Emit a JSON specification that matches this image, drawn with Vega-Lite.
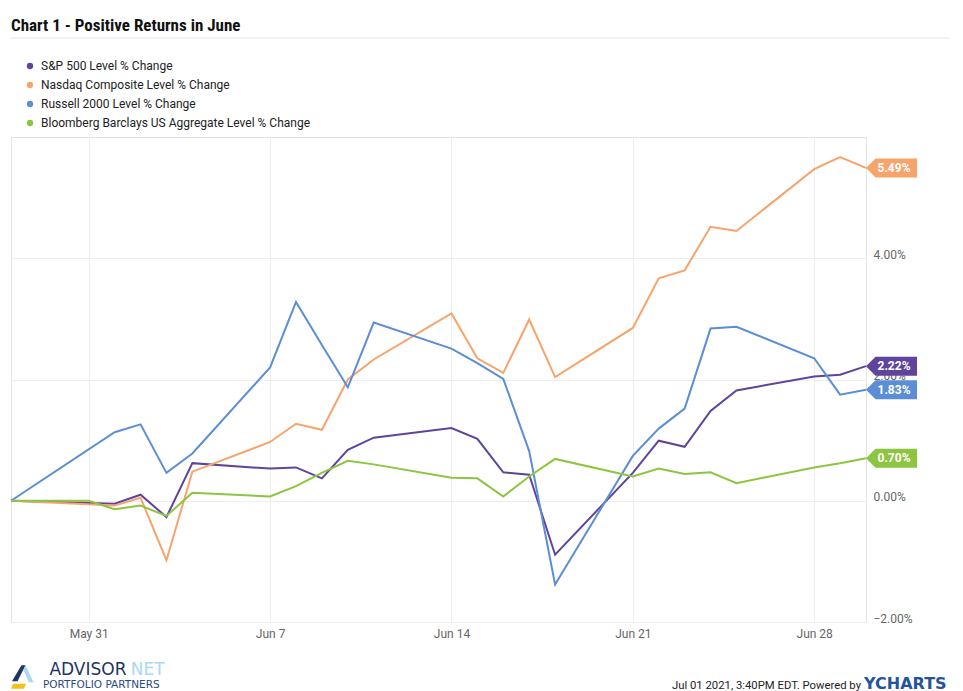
{
  "$schema": "https://vega.github.io/schema/vega-lite/v6.json",
  "width": 855,
  "height": 485,
  "autosize": {"type": "none"},
  "padding": {"left": 11, "top": 137, "right": 97, "bottom": 69},
  "background": "white",
  "title": {
    "text": "Chart 1 - Positive Returns in June",
    "anchor": "start",
    "frame": "group",
    "font": "'Roboto Condensed', 'DejaVu Sans Condensed', 'Liberation Sans Narrow', Roboto",
    "fontSize": 17,
    "fontWeight": "bold",
    "color": "#111111",
    "baseline": "alphabetic",
    "offset": -11
  },
  "config": {
    "view": {"stroke": "#e3e3e3"},
    "font": "Roboto"
  },
  "datasets": {
    "series": [
      {"date": "2021-05-28", "series": "S&P 500 Level % Change", "value": 0},
      {"date": "2021-06-01", "series": "S&P 500 Level % Change", "value": -0.05},
      {"date": "2021-06-02", "series": "S&P 500 Level % Change", "value": 0.10},
      {"date": "2021-06-03", "series": "S&P 500 Level % Change", "value": -0.27},
      {"date": "2021-06-04", "series": "S&P 500 Level % Change", "value": 0.62},
      {"date": "2021-06-07", "series": "S&P 500 Level % Change", "value": 0.53},
      {"date": "2021-06-08", "series": "S&P 500 Level % Change", "value": 0.55},
      {"date": "2021-06-09", "series": "S&P 500 Level % Change", "value": 0.37},
      {"date": "2021-06-10", "series": "S&P 500 Level % Change", "value": 0.84},
      {"date": "2021-06-11", "series": "S&P 500 Level % Change", "value": 1.04},
      {"date": "2021-06-14", "series": "S&P 500 Level % Change", "value": 1.20},
      {"date": "2021-06-15", "series": "S&P 500 Level % Change", "value": 1.02},
      {"date": "2021-06-16", "series": "S&P 500 Level % Change", "value": 0.47},
      {"date": "2021-06-17", "series": "S&P 500 Level % Change", "value": 0.43},
      {"date": "2021-06-18", "series": "S&P 500 Level % Change", "value": -0.89},
      {"date": "2021-06-21", "series": "S&P 500 Level % Change", "value": 0.46},
      {"date": "2021-06-22", "series": "S&P 500 Level % Change", "value": 0.99},
      {"date": "2021-06-23", "series": "S&P 500 Level % Change", "value": 0.89},
      {"date": "2021-06-24", "series": "S&P 500 Level % Change", "value": 1.48},
      {"date": "2021-06-25", "series": "S&P 500 Level % Change", "value": 1.82},
      {"date": "2021-06-28", "series": "S&P 500 Level % Change", "value": 2.05},
      {"date": "2021-06-29", "series": "S&P 500 Level % Change", "value": 2.08},
      {"date": "2021-06-30", "series": "S&P 500 Level % Change", "value": 2.22},
      {"date": "2021-05-28", "series": "Nasdaq Composite Level % Change", "value": 0},
      {"date": "2021-06-01", "series": "Nasdaq Composite Level % Change", "value": -0.08},
      {"date": "2021-06-02", "series": "Nasdaq Composite Level % Change", "value": 0.05},
      {"date": "2021-06-03", "series": "Nasdaq Composite Level % Change", "value": -0.98},
      {"date": "2021-06-04", "series": "Nasdaq Composite Level % Change", "value": 0.48},
      {"date": "2021-06-07", "series": "Nasdaq Composite Level % Change", "value": 0.97},
      {"date": "2021-06-08", "series": "Nasdaq Composite Level % Change", "value": 1.27},
      {"date": "2021-06-09", "series": "Nasdaq Composite Level % Change", "value": 1.17},
      {"date": "2021-06-10", "series": "Nasdaq Composite Level % Change", "value": 2.00},
      {"date": "2021-06-11", "series": "Nasdaq Composite Level % Change", "value": 2.33},
      {"date": "2021-06-14", "series": "Nasdaq Composite Level % Change", "value": 3.09},
      {"date": "2021-06-15", "series": "Nasdaq Composite Level % Change", "value": 2.35},
      {"date": "2021-06-16", "series": "Nasdaq Composite Level % Change", "value": 2.11},
      {"date": "2021-06-17", "series": "Nasdaq Composite Level % Change", "value": 2.99},
      {"date": "2021-06-18", "series": "Nasdaq Composite Level % Change", "value": 2.04},
      {"date": "2021-06-21", "series": "Nasdaq Composite Level % Change", "value": 2.85},
      {"date": "2021-06-22", "series": "Nasdaq Composite Level % Change", "value": 3.67},
      {"date": "2021-06-23", "series": "Nasdaq Composite Level % Change", "value": 3.80},
      {"date": "2021-06-24", "series": "Nasdaq Composite Level % Change", "value": 4.52},
      {"date": "2021-06-25", "series": "Nasdaq Composite Level % Change", "value": 4.45},
      {"date": "2021-06-28", "series": "Nasdaq Composite Level % Change", "value": 5.47},
      {"date": "2021-06-29", "series": "Nasdaq Composite Level % Change", "value": 5.67},
      {"date": "2021-06-30", "series": "Nasdaq Composite Level % Change", "value": 5.49},
      {"date": "2021-05-28", "series": "Russell 2000 Level % Change", "value": 0},
      {"date": "2021-06-01", "series": "Russell 2000 Level % Change", "value": 1.13},
      {"date": "2021-06-02", "series": "Russell 2000 Level % Change", "value": 1.26},
      {"date": "2021-06-03", "series": "Russell 2000 Level % Change", "value": 0.46},
      {"date": "2021-06-04", "series": "Russell 2000 Level % Change", "value": 0.78},
      {"date": "2021-06-07", "series": "Russell 2000 Level % Change", "value": 2.20},
      {"date": "2021-06-08", "series": "Russell 2000 Level % Change", "value": 3.28},
      {"date": "2021-06-09", "series": "Russell 2000 Level % Change", "value": 2.57},
      {"date": "2021-06-10", "series": "Russell 2000 Level % Change", "value": 1.87},
      {"date": "2021-06-11", "series": "Russell 2000 Level % Change", "value": 2.94},
      {"date": "2021-06-14", "series": "Russell 2000 Level % Change", "value": 2.51},
      {"date": "2021-06-15", "series": "Russell 2000 Level % Change", "value": 2.27},
      {"date": "2021-06-16", "series": "Russell 2000 Level % Change", "value": 2.01},
      {"date": "2021-06-17", "series": "Russell 2000 Level % Change", "value": 0.82},
      {"date": "2021-06-18", "series": "Russell 2000 Level % Change", "value": -1.38},
      {"date": "2021-06-21", "series": "Russell 2000 Level % Change", "value": 0.74},
      {"date": "2021-06-22", "series": "Russell 2000 Level % Change", "value": 1.19},
      {"date": "2021-06-23", "series": "Russell 2000 Level % Change", "value": 1.52},
      {"date": "2021-06-24", "series": "Russell 2000 Level % Change", "value": 2.84},
      {"date": "2021-06-25", "series": "Russell 2000 Level % Change", "value": 2.87},
      {"date": "2021-06-28", "series": "Russell 2000 Level % Change", "value": 2.35},
      {"date": "2021-06-29", "series": "Russell 2000 Level % Change", "value": 1.75},
      {"date": "2021-06-30", "series": "Russell 2000 Level % Change", "value": 1.83},
      {"date": "2021-05-28", "series": "Bloomberg Barclays US Aggregate Level % Change", "value": 0},
      {"date": "2021-05-31", "series": "Bloomberg Barclays US Aggregate Level % Change", "value": 0.00},
      {"date": "2021-06-01", "series": "Bloomberg Barclays US Aggregate Level % Change", "value": -0.14},
      {"date": "2021-06-02", "series": "Bloomberg Barclays US Aggregate Level % Change", "value": -0.08},
      {"date": "2021-06-03", "series": "Bloomberg Barclays US Aggregate Level % Change", "value": -0.25},
      {"date": "2021-06-04", "series": "Bloomberg Barclays US Aggregate Level % Change", "value": 0.13},
      {"date": "2021-06-07", "series": "Bloomberg Barclays US Aggregate Level % Change", "value": 0.07},
      {"date": "2021-06-08", "series": "Bloomberg Barclays US Aggregate Level % Change", "value": 0.24},
      {"date": "2021-06-09", "series": "Bloomberg Barclays US Aggregate Level % Change", "value": 0.46},
      {"date": "2021-06-10", "series": "Bloomberg Barclays US Aggregate Level % Change", "value": 0.66},
      {"date": "2021-06-11", "series": "Bloomberg Barclays US Aggregate Level % Change", "value": 0.60},
      {"date": "2021-06-14", "series": "Bloomberg Barclays US Aggregate Level % Change", "value": 0.38},
      {"date": "2021-06-15", "series": "Bloomberg Barclays US Aggregate Level % Change", "value": 0.37},
      {"date": "2021-06-16", "series": "Bloomberg Barclays US Aggregate Level % Change", "value": 0.07},
      {"date": "2021-06-17", "series": "Bloomberg Barclays US Aggregate Level % Change", "value": 0.40},
      {"date": "2021-06-18", "series": "Bloomberg Barclays US Aggregate Level % Change", "value": 0.69},
      {"date": "2021-06-21", "series": "Bloomberg Barclays US Aggregate Level % Change", "value": 0.40},
      {"date": "2021-06-22", "series": "Bloomberg Barclays US Aggregate Level % Change", "value": 0.53},
      {"date": "2021-06-23", "series": "Bloomberg Barclays US Aggregate Level % Change", "value": 0.44},
      {"date": "2021-06-24", "series": "Bloomberg Barclays US Aggregate Level % Change", "value": 0.47},
      {"date": "2021-06-25", "series": "Bloomberg Barclays US Aggregate Level % Change", "value": 0.29},
      {"date": "2021-06-28", "series": "Bloomberg Barclays US Aggregate Level % Change", "value": 0.55},
      {"date": "2021-06-29", "series": "Bloomberg Barclays US Aggregate Level % Change", "value": 0.62},
      {"date": "2021-06-30", "series": "Bloomberg Barclays US Aggregate Level % Change", "value": 0.70}
    ],
    "ends": [
      {"date": "2021-06-30", "series": "S&P 500 Level % Change", "value": 2.22, "label": "2.22%"},
      {"date": "2021-06-30", "series": "Nasdaq Composite Level % Change", "value": 5.49, "label": "5.49%"},
      {"date": "2021-06-30", "series": "Russell 2000 Level % Change", "value": 1.83, "label": "1.83%"},
      {"date": "2021-06-30", "series": "Bloomberg Barclays US Aggregate Level % Change", "value": 0.70, "label": "0.70%"}
    ]
  },
  "layer": [
    {
      "data": {"values": [{}]},
      "mark": {"type": "rule", "color": "#e6e6e6", "strokeWidth": 1},
      "encoding": {
        "x": {"datum": {"year": 2021, "month": 5, "date": 27, "hours": 23, "minutes": 4, "utc": true}, "type": "temporal"},
        "x2": {"datum": {"year": 2021, "month": 7, "date": 3, "hours": 5, "minutes": 48, "utc": true}},
        "y": {"datum": 7.633, "type": "quantitative"}
      }
    },
    {
      "data": {"name": "series"},
      "mark": {"type": "line", "strokeWidth": 2, "interpolate": "linear"},
      "encoding": {
        "x": {
          "field": "date",
          "type": "temporal",
          "scale": {
            "type": "utc",
            "domain": [
              {"year": 2021, "month": 5, "date": 28, "utc": true},
              {"year": 2021, "month": 6, "date": 30, "utc": true}
            ]
          },
          "axis": {
            "title": null,
            "orient": "bottom",
            "values": [
              {"year": 2021, "month": 5, "date": 31, "utc": true},
              {"year": 2021, "month": 6, "date": 7, "utc": true},
              {"year": 2021, "month": 6, "date": 14, "utc": true},
              {"year": 2021, "month": 6, "date": 21, "utc": true},
              {"year": 2021, "month": 6, "date": 28, "utc": true}
            ],
            "format": "%b %-d",
            "labelFont": "Roboto",
            "labelFontSize": 12,
            "labelColor": "#666666",
            "labelPadding": 6,
            "ticks": false,
            "domain": false,
            "grid": true,
            "gridColor": "#eeeeee"
          }
        },
        "y": {
          "field": "value",
          "type": "quantitative",
          "scale": {"domain": [-2, 6], "nice": false, "zero": false},
          "axis": {
            "title": null,
            "orient": "right",
            "values": [-2, 0, 2, 4],
            "labelExpr": "format(datum.value, '.2f') + '%'",
            "labelFont": "Roboto",
            "labelFontSize": 12,
            "labelColor": "#666666",
            "labelPadding": 7,
            "labelBaseline": "alphabetic",
            "labelAlign": "left",
            "ticks": false,
            "domain": false,
            "grid": true,
            "gridColor": "#eeeeee"
          }
        },
        "color": {
          "field": "series",
          "type": "nominal",
          "scale": {
            "domain": [
              "S&P 500 Level % Change",
              "Nasdaq Composite Level % Change",
              "Russell 2000 Level % Change",
              "Bloomberg Barclays US Aggregate Level % Change"
            ],
            "range": ["#5e449c", "#f7a46c", "#5b8ed4", "#8cc540"]
          },
          "legend": {
            "title": null,
            "orient": "none",
            "legendX": 13,
            "legendY": -77,
            "direction": "vertical",
            "padding": 0,
            "symbolType": "circle",
            "symbolSize": 40,
            "symbolStrokeWidth": 0,
            "labelFont": "Roboto",
            "labelFontSize": 12,
            "labelColor": "#222222",
            "labelOffset": 5,
            "labelLimit": 0,
            "rowPadding": 7,
            "encode": {
              "symbols": {
                "update": {
                  "fill": {"scale": "color", "field": "value"},
                  "fillOpacity": {"value": 1}
                }
              }
            }
          }
        }
      }
    },
    {
      "data": {"name": "ends"},
      "mark": {
        "type": "point",
        "filled": true,
        "opacity": 1,
        "size": 400,
        "shape": "M 0 0 L 0.95 -0.95 L 5.1 -0.95 L 5.1 0.95 L 0.95 0.95 Z"
      },
      "encoding": {
        "x": {"field": "date", "type": "temporal"},
        "y": {"field": "value", "type": "quantitative"},
        "color": {"field": "series", "type": "nominal", "legend": null}
      }
    },
    {
      "data": {"name": "ends"},
      "mark": {
        "type": "text",
        "color": "white",
        "font": "Roboto",
        "fontWeight": "bold",
        "fontSize": 12,
        "align": "center",
        "baseline": "middle",
        "dx": 28
      },
      "encoding": {
        "x": {"field": "date", "type": "temporal"},
        "y": {"field": "value", "type": "quantitative"},
        "text": {"field": "label"}
      }
    },
    {
      "data": {"values": [{}]},
      "mark": {"type": "point", "filled": true, "opacity": 1, "size": 400, "color": "#1f3566",
        "shape": "M -1.1 0.5 L -0.15 -1.1 L 0.25 -1.1 L -0.55 0.5 Z"},
      "encoding": {
        "x": {"datum": {"year": 2021, "month": 5, "date": 28, "hours": 11, "minutes": 7, "utc": true}, "type": "temporal"},
        "y": {"datum": -2.895, "type": "quantitative"}
      }
    },
    {
      "data": {"values": [{}]},
      "mark": {"type": "point", "filled": true, "opacity": 1, "size": 400, "color": "#a9d8ef",
        "shape": "M 0.25 -1.1 L 1.05 0.6 L 0.6 0.6 L 0.05 -0.6 Z"},
      "encoding": {
        "x": {"datum": {"year": 2021, "month": 5, "date": 28, "hours": 11, "minutes": 7, "utc": true}, "type": "temporal"},
        "y": {"datum": -2.895, "type": "quantitative"}
      }
    },
    {
      "data": {"values": [{}]},
      "mark": {"type": "point", "filled": true, "opacity": 1, "size": 400, "color": "#f2c31b",
        "shape": "M -1.0 0.75 L 0.3 0.75 L 0.1 1.25 L -1.2 1.25 Z"},
      "encoding": {
        "x": {"datum": {"year": 2021, "month": 5, "date": 28, "hours": 11, "minutes": 7, "utc": true}, "type": "temporal"},
        "y": {"datum": -2.895, "type": "quantitative"}
      }
    },
    {
      "data": {"values": [{"label": "ADVISOR"}]},
      "mark": {"type": "text", "font": "DejaVu Sans", "fontSize": 17, "color": "#1f3566", "align": "right", "baseline": "alphabetic"},
      "encoding": {
        "x": {"datum": {"year": 2021, "month": 6, "date": 1, "hours": 11, "minutes": 0, "utc": true}, "type": "temporal"},
        "y": {"datum": -2.88, "type": "quantitative"},
        "text": {"field": "label"}
      }
    },
    {
      "data": {"values": [{"label": "NET"}]},
      "mark": {"type": "text", "font": "DejaVu Sans", "fontSize": 17, "color": "#a9d8ef", "align": "left", "baseline": "alphabetic"},
      "encoding": {
        "x": {"datum": {"year": 2021, "month": 6, "date": 1, "hours": 15, "minutes": 0, "utc": true}, "type": "temporal"},
        "y": {"datum": -2.88, "type": "quantitative"},
        "text": {"field": "label"}
      }
    },
    {
      "data": {"values": [{"label": "PORTFOLIO PARTNERS"}]},
      "mark": {"type": "text", "font": "DejaVu Sans", "fontSize": 10.5, "color": "#2b4a80", "align": "left", "baseline": "alphabetic"},
      "encoding": {
        "x": {"datum": {"year": 2021, "month": 5, "date": 29, "hours": 5, "minutes": 38, "utc": true}, "type": "temporal"},
        "y": {"datum": -3.095, "type": "quantitative"},
        "text": {"field": "label"}
      }
    },
    {
      "data": {"values": [{"label": "Jul 01 2021, 3:40PM EDT. Powered by"}]},
      "mark": {"type": "text", "font": "'Liberation Sans Narrow', Roboto", "fontSize": 11.3, "color": "#222222", "align": "right", "baseline": "alphabetic"},
      "encoding": {
        "x": {"datum": {"year": 2021, "month": 6, "date": 29, "hours": 19, "minutes": 22, "utc": true}, "type": "temporal"},
        "y": {"datum": -3.105, "type": "quantitative"},
        "text": {"field": "label"}
      }
    },
    {
      "data": {"values": [{"label": "YCHARTS"}]},
      "mark": {"type": "text", "font": "DejaVu Sans", "fontSize": 16, "fontWeight": "bold", "color": "#24549b", "align": "left", "baseline": "alphabetic"},
      "encoding": {
        "x": {"datum": {"year": 2021, "month": 6, "date": 29, "hours": 22, "minutes": 9, "utc": true}, "type": "temporal"},
        "y": {"datum": -3.105, "type": "quantitative"},
        "text": {"field": "label"}
      }
    }
  ]
}
